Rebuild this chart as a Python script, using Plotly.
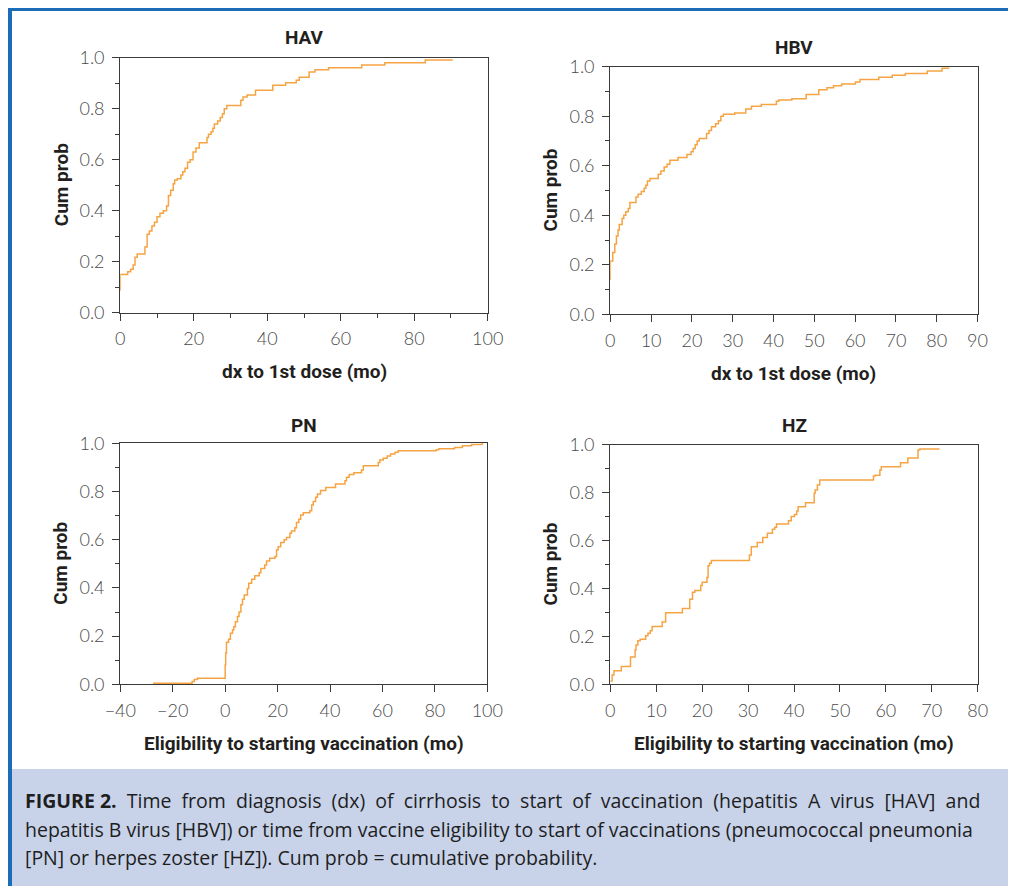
import plotly.graph_objects as go

# ---------------- data ----------------
hav_x = [0, 0, 2.0, 2.8, 3.5, 4.0, 4.6, 6.7, 7.3, 7.9, 8.6, 9.3, 10.0, 10.8, 11.7, 12.6, 13.1, 13.7,
         14.4, 14.8, 15.5, 16.5, 17.0, 17.6, 18.3, 19.0, 19.8, 20.6, 21.5, 23.6, 24.0, 24.7, 25.2,
         25.6, 26.5, 27.2, 27.8, 28.3, 29.0, 32.8, 33.4, 34.5, 36.8, 41.5, 45.0, 47.9, 48.7, 51.4,
         53.0, 56.7, 65.7, 72.0, 83.0, 90.5]
hav_y = [0.086, 0.150, 0.161, 0.170, 0.187, 0.217, 0.230, 0.258, 0.308, 0.320, 0.340, 0.355, 0.376,
         0.390, 0.400, 0.418, 0.460, 0.480, 0.506, 0.520, 0.525, 0.540, 0.553, 0.566, 0.590, 0.600,
         0.630, 0.646, 0.666, 0.687, 0.700, 0.710, 0.723, 0.740, 0.752, 0.765, 0.780, 0.800, 0.813,
         0.833, 0.846, 0.854, 0.872, 0.892, 0.902, 0.912, 0.923, 0.944, 0.953, 0.961, 0.971, 0.980,
         0.991, 0.991]

hbv_x = [0, 0, 0.6, 1.1, 1.5, 1.9, 2.2, 2.9, 3.3, 3.8, 4.4, 4.8, 6.3, 6.8, 7.6, 8.3, 8.7, 9.1, 9.7,
         11.75, 12.4, 13.2, 13.9, 14.6, 16.6, 18.8, 19.8, 20.3, 20.8, 21.3, 21.8, 23.6, 24.2, 24.8,
         25.8, 26.5, 27.1, 27.7, 30.5, 33.2, 34.6, 37.0, 40.7, 41.3, 44.5, 48.0, 51.1, 53.1, 54.7,
         56.7, 60.1, 61.2, 65.8, 69.1, 72.3, 77.7, 81.3, 83.1]
hbv_y = [0.138, 0.215, 0.250, 0.284, 0.316, 0.340, 0.363, 0.387, 0.400, 0.414, 0.427, 0.452, 0.474,
         0.485, 0.496, 0.509, 0.521, 0.538, 0.548, 0.566, 0.579, 0.595, 0.606, 0.622, 0.633, 0.645,
         0.657, 0.670, 0.685, 0.700, 0.710, 0.730, 0.742, 0.757, 0.770, 0.782, 0.800, 0.808, 0.813,
         0.829, 0.840, 0.847, 0.860, 0.866, 0.871, 0.888, 0.907, 0.915, 0.923, 0.930, 0.938, 0.948,
         0.957, 0.965, 0.973, 0.983, 0.994, 0.994]

pn_x = [-27.5, -12.6, -11.8, -10.6, 0.0, 0.2, 0.5, 1.3, 2.0, 2.8, 3.3, 3.9, 4.7, 5.3, 6.0, 6.6, 7.3,
        8.5, 9.0, 10.1, 11.3, 13.0, 13.6, 15.1, 15.8, 17.0, 19.0, 19.6, 20.2, 21.2, 22.5, 23.4, 24.7,
        25.3, 26.6, 27.2, 28.1, 28.8, 29.8, 32.3, 33.0, 33.6, 34.5, 35.2, 36.4, 38.4, 42.1, 45.7,
        46.3, 47.3, 49.1, 52.0, 52.7, 58.4, 59.0, 60.3, 61.8, 63.1, 64.8, 66.0, 80.5, 81.5, 87.5,
        90.5, 94.0, 98.0, 98.5]
pn_y = [0.004, 0.012, 0.020, 0.025, 0.080, 0.130, 0.175, 0.187, 0.212, 0.225, 0.239, 0.260, 0.281,
        0.300, 0.330, 0.353, 0.371, 0.398, 0.419, 0.436, 0.450, 0.463, 0.481, 0.495, 0.512, 0.523,
        0.530, 0.557, 0.571, 0.588, 0.600, 0.609, 0.627, 0.636, 0.650, 0.671, 0.685, 0.703, 0.712,
        0.720, 0.744, 0.758, 0.776, 0.790, 0.804, 0.817, 0.831, 0.845, 0.859, 0.871, 0.878, 0.889,
        0.907, 0.920, 0.931, 0.938, 0.947, 0.956, 0.963, 0.969, 0.973, 0.977, 0.983, 0.990, 0.995,
        0.999, 0.999]

hz_x = [0, 0.4, 0.8, 2.4, 4.4, 5.4, 5.6, 6.0, 6.5, 7.7, 8.2, 8.7, 9.1, 11.3, 12.05, 15.7, 17.3, 17.9,
        18.4, 19.7, 20.0, 21.05, 21.3, 21.6, 22.0, 30.3, 30.7, 32.0, 33.2, 34.2, 35.3, 35.8, 36.2,
        38.8, 39.4, 40.1, 40.6, 40.9, 42.5, 44.4, 44.6, 45.1, 45.6, 57.3, 57.7, 58.7, 59.0, 63.2,
        64.8, 67.0, 67.4, 71.7]
hz_y = [0.014, 0.039, 0.057, 0.074, 0.114, 0.143, 0.164, 0.182, 0.188, 0.203, 0.213, 0.224, 0.241,
        0.260, 0.299, 0.316, 0.355, 0.384, 0.391, 0.412, 0.426, 0.446, 0.495, 0.505, 0.517, 0.540,
        0.574, 0.592, 0.613, 0.630, 0.647, 0.655, 0.669, 0.683, 0.700, 0.709, 0.723, 0.741, 0.758,
        0.797, 0.811, 0.832, 0.853, 0.869, 0.873, 0.894, 0.908, 0.925, 0.944, 0.978, 0.982, 0.982]

panel_titles = ["HAV", "HBV", "PN", "HZ"]
x_titles = ["dx to 1st dose (mo)", "dx to 1st dose (mo)",
            "Eligibility to starting vaccination (mo)", "Eligibility to starting vaccination (mo)"]
y_title = "Cum prob"
caption_label = "FIGURE 2."
caption_lines = [
    "FIGURE 2. Time from diagnosis (dx) of cirrhosis to start of vaccination (hepatitis A virus [HAV] and",
    "hepatitis B virus [HBV]) or time from vaccine eligibility to start of vaccinations (pneumococcal pneumonia",
    "[PN] or herpes zoster [HZ]). Cum prob = cumulative probability.",
]
# extra spacing per word gap, to mimic the justified text block
caption_gap_extra = ["\u00a0", "", ""]

# ---------------- layout geometry ----------------
# the page body has an 8px margin, so the figure starts at (8, 8) on screen
OFF = 8
W, H = 1016 - OFF, 886 - OFF
def px(x):
    return (x - OFF) / W
def py(y):
    return 1 - (y - OFF) / H

# plot boxes in screen pixels: (left, right, top, bottom)
boxes = [
    (120.3, 487.7, 57.7, 312.7),
    (610.3, 977.5, 66.7, 314.3),
    (120.3, 487.3, 443.3, 684.3),
    (610.3, 977.7, 444.7, 684.3),
]
xranges = [[0, 100], [0, 90], [-40, 100], [0, 80]]
xdticks = [20, 10, 20, 10]
xminor = [10, None, None, None]
title_pos = [(304, 38), (794, 47), (304, 425), (794, 425)]
xtitle_y = [371, 373, 743, 743]
ytitle_x = [61, 550, 61, 550]

LINE = "#F6A443"
AX = "#3a3a3a"
TICKFONT = dict(family="Lato, 'Open Sans', sans-serif", size=18, color="#4a4a4a", weight=300)
BOLD = "Roboto, 'DejaVu Sans', sans-serif"
TXT = "#231f20"
CAPFONT = dict(family="'Open Sans', Lato, sans-serif", size=19.5, color="#1e1e1e")

fig = go.Figure()
series = [(hav_x, hav_y), (hbv_x, hbv_y), (pn_x, pn_y), (hz_x, hz_y)]
annotations = []
for i, ((sx, sy), (l, r, t, b)) in enumerate(zip(series, boxes)):
    n = "" if i == 0 else str(i + 1)
    fig.add_trace(go.Scatter(x=sx, y=sy, mode="lines", xaxis="x" + n, yaxis="y" + n,
                             line=dict(shape="hv", color=LINE, width=1.5),
                             showlegend=False, hoverinfo="x+y"))
    xa = dict(domain=[px(l), px(r)], range=xranges[i], anchor="y" + n, automargin=False,
              showline=True, linecolor=AX, linewidth=1.3, mirror=True,
              ticks="outside", ticklen=7, tickwidth=1.3, tickcolor=AX,
              tick0=0, dtick=xdticks[i], tickfont=TICKFONT, ticklabelstandoff=3,
              showgrid=False, zeroline=False, fixedrange=True)
    if xminor[i]:
        xa["minor"] = dict(dtick=xminor[i], tick0=0, ticks="outside", ticklen=4,
                           tickwidth=1.2, tickcolor=AX, showgrid=False)
    ya = dict(domain=[py(b), py(t)], range=[0, 1], anchor="x" + n, automargin=False,
              showline=True, linecolor=AX, linewidth=1.3, mirror=True,
              ticks="outside", ticklen=7, tickwidth=1.3, tickcolor=AX,
              tick0=0, dtick=0.2, tickformat=".1f", tickfont=TICKFONT, ticklabelstandoff=4,
              minor=dict(dtick=0.1, tick0=0, ticks="outside", ticklen=4,
                         tickwidth=1.2, tickcolor=AX, showgrid=False),
              showgrid=False, zeroline=False, fixedrange=True)
    fig.update_layout(**{"xaxis" + n: xa, "yaxis" + n: ya})

    cx = (l + r) / 2
    cy = (t + b) / 2
    annotations.append(dict(text=panel_titles[i], x=px(title_pos[i][0]), y=py(title_pos[i][1]),
                            xref="paper", yref="paper", showarrow=False,
                            xanchor="center", yanchor="middle",
                            font=dict(family=BOLD, size=19, color=TXT, weight="bold")))
    annotations.append(dict(text=x_titles[i], x=px(cx), y=py(xtitle_y[i]),
                            xref="paper", yref="paper", showarrow=False,
                            xanchor="center", yanchor="middle",
                            font=dict(family=BOLD, size=19, color=TXT, weight="bold")))
    annotations.append(dict(text=y_title, x=px(ytitle_x[i]), y=py(cy), textangle=-90,
                            xref="paper", yref="paper", showarrow=False,
                            xanchor="center", yanchor="middle",
                            font=dict(family=BOLD, size=19, color=TXT, weight="bold")))

# ---------------- caption ----------------
CAP_L = 23
caption_y = [800, 829, 857]
for txt, yy, extra in zip(caption_lines, caption_y, caption_gap_extra):
    label = caption_label if txt.startswith(caption_label) else ""
    body = txt[len(label):]
    body = body.replace(" ", " " + extra) if extra else body
    text = ("<b>" + label + "</b>" if label else "") + body
    annotations.append(dict(text=text, x=px(CAP_L), y=py(yy), xref="paper",
                            yref="paper", showarrow=False, xanchor="left",
                            yanchor="middle", font=CAPFONT))

shapes = [
    # caption box
    dict(type="rect", xref="paper", yref="paper", x0=px(12), x1=1, y0=0, y1=py(769),
         fillcolor="#C8D3EA", line=dict(width=0), layer="below"),
    # blue frame: top and left
    dict(type="rect", xref="paper", yref="paper", x0=px(8), x1=1, y0=py(11), y1=py(7.3),
         fillcolor="#1B6DB8", line=dict(width=0)),
    dict(type="rect", xref="paper", yref="paper", x0=px(8), x1=px(12), y0=0, y1=py(7.3),
         fillcolor="#1B6DB8", line=dict(width=0)),
]

fig.update_layout(width=W, height=H, margin=dict(l=0, r=0, t=0, b=0, pad=0, autoexpand=False),
                  paper_bgcolor="white", plot_bgcolor="white",
                  annotations=annotations, shapes=shapes, showlegend=False)

fig.write_html("out.html")
